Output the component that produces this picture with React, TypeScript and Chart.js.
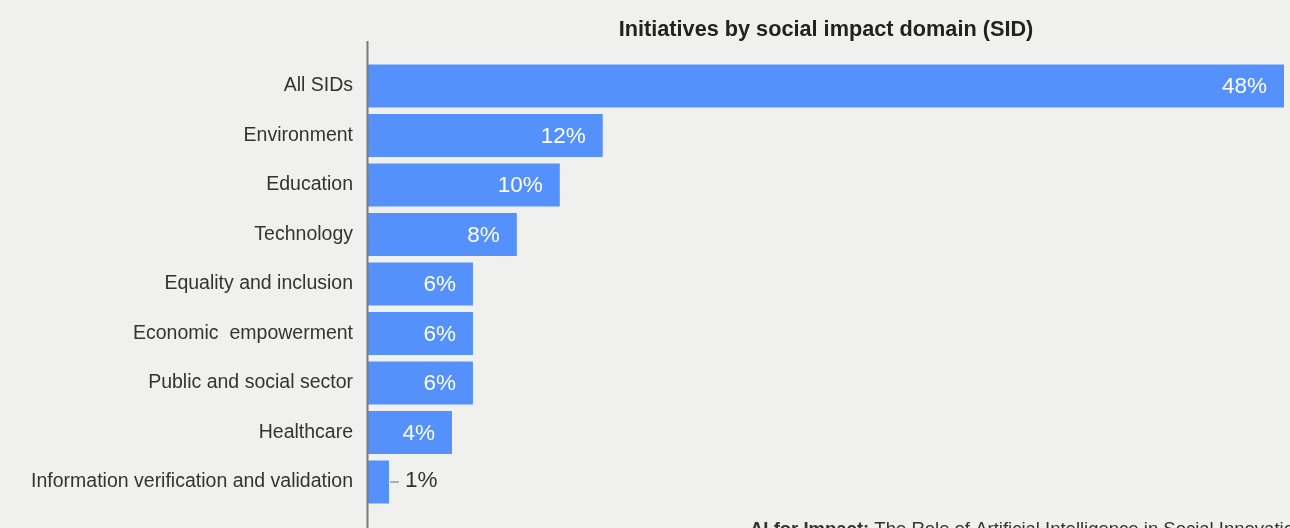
import React, { useEffect, useRef } from "react";
import { Chart, registerables } from "chart.js";

Chart.register(...registerables);

const categories = [
  "All SIDs",
  "Environment",
  "Education",
  "Technology",
  "Equality and inclusion",
  "Economic  empowerment",
  "Public and social sector",
  "Healthcare",
  "Information verification and validation",
];
const values = [48, 12.3, 10.05, 7.8, 5.5, 5.5, 5.5, 4.4, 1.1];
const valueLabels = ["48%", "12%", "10%", "8%", "6%", "6%", "6%", "4%", "1%"];
const titleText = "Initiatives by social impact domain (SID)";
const footerBold = "AI for Impact:";
const footerText = " The Role of Artificial Intelligence in Social Innovation";

const BG = "#f0f0ee";
const BAR = "#5591fc";
const TEXT = "#333333";
const FONT = "'Liberation Sans', Arial, Helvetica, sans-serif";

const decorPlugin = {
  id: "decor",
  beforeDraw(chart: any) {
    const { ctx, width, height } = chart;
    ctx.save();
    ctx.fillStyle = BG;
    ctx.fillRect(0, 0, width, height);
    ctx.restore();
  },
  afterDatasetsDraw(chart: any) {
    const { ctx, chartArea } = chart;
    const meta = chart.getDatasetMeta(0);
    ctx.save();
    // axis line
    ctx.strokeStyle = "#7a7a7a";
    ctx.lineWidth = 2;
    ctx.beginPath();
    ctx.moveTo(chartArea.left - 0.5, 41);
    ctx.lineTo(chartArea.left - 0.5, chart.height);
    ctx.stroke();
    // value labels
    ctx.font = `300 22.5px ${FONT}`;
    ctx.textBaseline = "middle";
    meta.data.forEach((bar: any, i: number) => {
      const v = values[i];
      if (v > 3) {
        ctx.fillStyle = "#ffffff";
        ctx.textAlign = "right";
        ctx.fillText(valueLabels[i], bar.x - 17, bar.y + 1);
      } else {
        ctx.strokeStyle = "#999999";
        ctx.lineWidth = 1.5;
        ctx.beginPath();
        ctx.moveTo(bar.x + 1, bar.y);
        ctx.lineTo(bar.x + 10, bar.y);
        ctx.stroke();
        ctx.fillStyle = TEXT;
        ctx.textAlign = "left";
        ctx.fillText(valueLabels[i], bar.x + 16, bar.y - 1);
      }
    });
    // title
    ctx.fillStyle = "#222222";
    ctx.font = `bold 21.7px ${FONT}`;
    ctx.textAlign = "center";
    ctx.textBaseline = "alphabetic";
    ctx.fillText(titleText, (chartArea.left + chartArea.right) / 2, 36);
    // footer
    ctx.textAlign = "left";
    ctx.font = `bold 18.5px ${FONT}`;
    ctx.fillStyle = TEXT;
    const x0 = 750;
    ctx.fillText(footerBold, x0, 535);
    const w = ctx.measureText(footerBold).width;
    ctx.font = `18.5px ${FONT}`;
    ctx.fillText(footerText, x0 + w, 535);
    ctx.restore();
  },
};

export default function App() {
  const ref = useRef<HTMLCanvasElement | null>(null);
  useEffect(() => {
    document.body.style.margin = "0";
    document.body.style.background = BG;
    if (!ref.current) return;
    const chart = new Chart(ref.current, {
      type: "bar",
      data: {
        labels: categories,
        datasets: [
          {
            data: values,
            backgroundColor: BAR,
            borderWidth: 0,
            categoryPercentage: 1,
            barPercentage: 0.87,
          },
        ],
      },
      options: {
        indexAxis: "y",
        animation: false,
        responsive: true,
        maintainAspectRatio: false,
        layout: { padding: { top: 61.25, bottom: 21.25, left: 0, right: 6 } },
        plugins: {
          legend: { display: false },
          tooltip: { enabled: false },
          title: { display: false },
        },
        scales: {
          x: { display: false, min: 0, max: 48 },
          y: {
            grid: { display: false, drawTicks: false },
            border: { display: false },
            ticks: {
              padding: 15,
              color: TEXT,
              font: { family: FONT, size: 19.5 },
              autoSkip: false,
            },
            afterFit(scale: any) {
              scale.width = 368;
              scale.paddingTop = 0;
              scale.paddingBottom = 0;
            },
          },
        },
      },
      plugins: [decorPlugin],
    } as any);
    return () => chart.destroy();
  }, []);
  return (
    <div style={{ position: "relative", width: 1290, height: 528, background: BG }}>
      <canvas ref={ref} />
    </div>
  );
}
